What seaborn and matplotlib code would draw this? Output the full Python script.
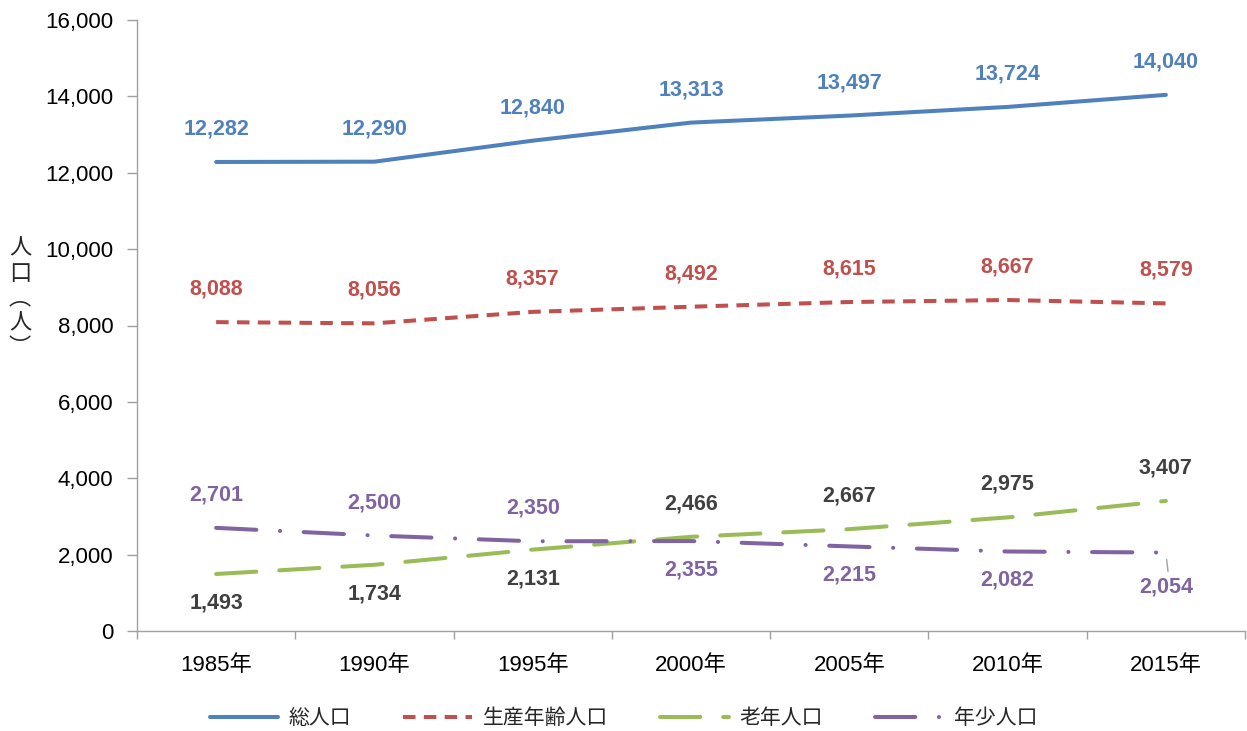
import numpy as np
import pandas as pd
import matplotlib
matplotlib.use("Agg")
import matplotlib.pyplot as plt
import seaborn as sns

years = ["1985年", "1990年", "1995年", "2000年", "2005年", "2010年", "2015年"]
total = [12282, 12290, 12840, 13313, 13497, 13724, 14040]
working = [8088, 8056, 8357, 8492, 8615, 8667, 8579]
elderly = [1493, 1734, 2131, 2466, 2667, 2975, 3407]
young = [2701, 2500, 2350, 2355, 2215, 2082, 2054]
series_names = ["総人口", "生産年齢人口", "老年人口", "年少人口"]
yticks = list(range(0, 16001, 2000))

sns.set_theme(style="white")
plt.rcParams['font.family'] = ['Noto Sans CJK JP', 'DejaVu Sans']
plt.rcParams['lines.scale_dashes'] = False
NUMFONT = ['Liberation Sans', 'Noto Sans CJK JP']

fig = plt.figure(figsize=(12.47, 7.31), dpi=100)
ax = fig.add_axes([137/1247, 1-631/731, (1245-137)/1247, (631-20)/731])

colors = ["#4F81BD", "#C0504D", "#9BBB59", "#8064A2"]
label_colors = ["#4F81BD", "#C0504D", "#404040", "#8064A2"]
data = [total, working, elderly, young]
dash_specs = [None, (9.0, 6.0), (29.0, 16.5), (29.0, 17.0, 0.1, 17.0)]
caps = ["round", "butt", "round", "round"]
x = np.arange(len(years))
lw = 2.9

for name, vals, c, d, cap in zip(series_names, data, colors, dash_specs, caps):
    df = pd.DataFrame({"x": x, "y": vals})
    sns.lineplot(data=df, x="x", y="y", ax=ax, color=c, linewidth=lw, label=name)
    ln = ax.lines[-1]
    if d is None:
        ln.set_solid_capstyle("round")
        ln.set_solid_joinstyle("round")
    else:
        ln.set_dashes(d)
        ln.set_dash_capstyle(cap)

# data labels: -1 above, +1 below
positions = [
    [-1] * 7,
    [-1] * 7,
    [1, 1, 1, -1, -1, -1, -1],
    [-1, -1, -1, 1, 1, 1, 1],
]
for vals, lc, pos, sidx in zip(data, label_colors, positions, range(4)):
    for i, (v, p) in enumerate(zip(vals, pos)):
        off = 33 if p < 0 else -29
        if sidx == 3 and i == 6:
            ax.annotate(f"{v:,}", (i, v), xytext=(0, -34), textcoords="offset pixels",
                        ha="center", va="center", fontsize=15.5, fontweight="bold", color=lc,
                        family=NUMFONT,
                        arrowprops=dict(arrowstyle="-", color="#A0A0A0", lw=1.0,
                                        shrinkA=1, shrinkB=5, relpos=(0.55, 1.0)))
        else:
            ax.annotate(f"{v:,}", (i, v), xytext=(0, off), textcoords="offset pixels",
                        ha="center", va="center", fontsize=15.5, fontweight="bold", color=lc,
                        family=NUMFONT)

ax.set_xlim(-0.5, len(years) - 0.5)
ax.set_ylim(0, 16000)
ax.set_yticks(yticks)
ax.set_yticklabels([f"{t:,}" for t in yticks])
ax.set_xticks(np.arange(-0.5, len(years), 1.0))
ax.set_xticklabels([""] * (len(years) + 1))
ax.set_xticks(x, minor=True)
ax.set_xticklabels(years, minor=True)
ax.tick_params(axis="x", which="major", length=6, width=1, color="#A0A0A0", direction="out", bottom=True)
ax.tick_params(axis="x", which="minor", length=0, pad=17, labelsize=16, labelcolor="black", bottom=True)
ax.tick_params(axis="y", length=7, width=1, color="#A0A0A0", direction="out", pad=10,
               labelsize=16, labelcolor="black", left=True)
for lbl in ax.get_yticklabels() + ax.get_xticklabels(minor=True):
    lbl.set_family(NUMFONT)
ax.set_xlabel("")
ax.set_ylabel("")
for s in ["top", "right"]:
    ax.spines[s].set_visible(False)
for s in ["left", "bottom"]:
    ax.spines[s].set_color("#A0A0A0")
    ax.spines[s].set_linewidth(1.0)
ax.grid(False)

handles, labels = ax.get_legend_handles_labels()
if ax.get_legend() is not None:
    ax.get_legend().remove()
fig.legend(handles, labels, loc="center", bbox_to_anchor=(0.5, 1-718/731), ncol=4,
           frameon=False, fontsize=15, handlelength=3.3, handletextpad=0.5,
           columnspacing=2.5, borderaxespad=0)

fig.text(20/1247, 1-298/731, "\n".join(["人", "口", "︵", "人", "︶"]), ha="center", va="center",
         fontsize=16, linespacing=1.1)

fig.savefig("out.png", dpi=100)
